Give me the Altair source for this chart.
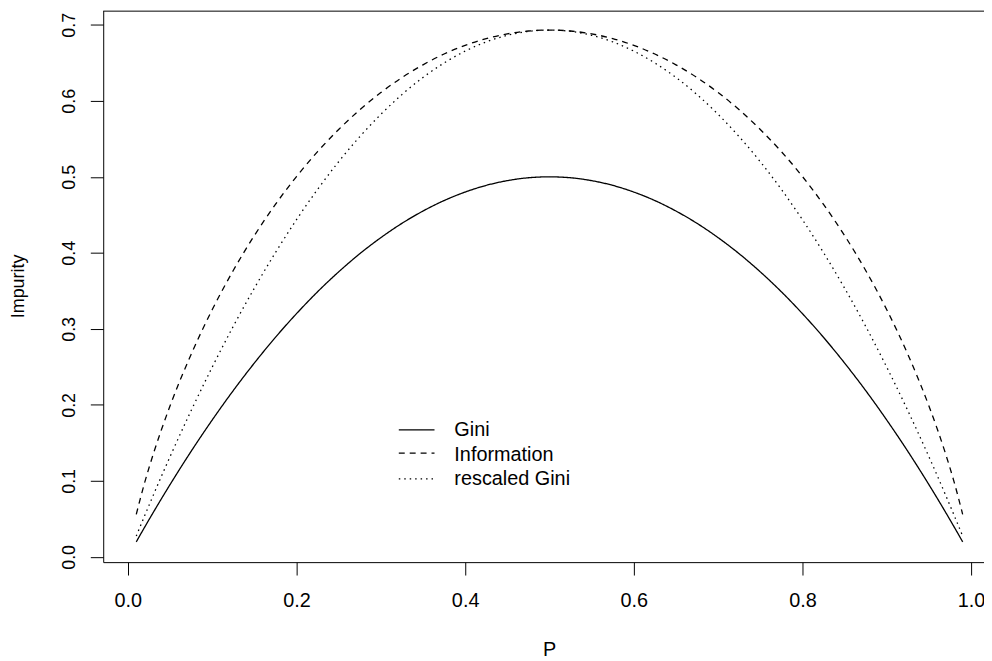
import altair as alt
import pandas as pd

# ---- data ----
p = [0.01, 0.02, 0.03, 0.04, 0.05, 0.075, 0.1, 0.125, 0.15, 0.175, 0.2, 0.225,
     0.25, 0.275, 0.3, 0.325, 0.35, 0.375, 0.4, 0.425, 0.45, 0.475, 0.5,
     0.525, 0.55, 0.575, 0.6, 0.625, 0.65, 0.675, 0.7, 0.725, 0.75, 0.775,
     0.8, 0.825, 0.85, 0.875, 0.9, 0.925, 0.95, 0.96, 0.97, 0.98, 0.99]

gini = [0.0198, 0.0392, 0.0582, 0.0768, 0.0950, 0.1388, 0.1800, 0.2188, 0.2550,
        0.2888, 0.3200, 0.3488, 0.3750, 0.3988, 0.4200, 0.4388, 0.4550, 0.4688,
        0.4800, 0.4888, 0.4950, 0.4988, 0.5000,
        0.4988, 0.4950, 0.4888, 0.4800, 0.4688, 0.4550, 0.4388, 0.4200, 0.3988,
        0.3750, 0.3488, 0.3200, 0.2888, 0.2550, 0.2188, 0.1800, 0.1388, 0.0950,
        0.0768, 0.0582, 0.0392, 0.0198]

information = [0.0560, 0.0980, 0.1347, 0.1679, 0.1985, 0.2664, 0.3251, 0.3768,
               0.4227, 0.4637, 0.5004, 0.5332, 0.5623, 0.5882, 0.6109, 0.6306,
               0.6474, 0.6616, 0.6730, 0.6819, 0.6881, 0.6919, 0.6931,
               0.6919, 0.6881, 0.6819, 0.6730, 0.6616, 0.6474, 0.6306, 0.6109,
               0.5882, 0.5623, 0.5332, 0.5004, 0.4637, 0.4227, 0.3768, 0.3251,
               0.2664, 0.1985, 0.1679, 0.1347, 0.0980, 0.0560]

rescaled_gini = [0.0274, 0.0543, 0.0807, 0.1065, 0.1317, 0.1923, 0.2495, 0.3033,
                 0.3535, 0.4003, 0.4436, 0.4835, 0.5199, 0.5528, 0.5822, 0.6082,
                 0.6308, 0.6498, 0.6654, 0.6776, 0.6862, 0.6914, 0.6931,
                 0.6914, 0.6862, 0.6776, 0.6654, 0.6498, 0.6308, 0.6082, 0.5822,
                 0.5528, 0.5199, 0.4835, 0.4436, 0.4003, 0.3535, 0.3033, 0.2495,
                 0.1923, 0.1317, 0.1065, 0.0807, 0.0543, 0.0274]

series_names = ["Gini", "Information", "rescaled Gini"]
x_ticks = [0.0, 0.2, 0.4, 0.6, 0.8, 1.0]
y_ticks = [0.0, 0.1, 0.2, 0.3, 0.4, 0.5, 0.6, 0.7]

rows = []
for name, vals in zip(series_names, [gini, information, rescaled_gini]):
    for xv, yv in zip(p, vals):
        rows.append({"P": xv, "Impurity": yv, "series": name})
df = pd.DataFrame(rows)
one = pd.DataFrame({"k": [0]})

FONT = "Liberation Sans"
W, H = 888, 556

x_scale = alt.Scale(domain=[-0.0292, 1.0153], nice=False, zero=False)
y_scale = alt.Scale(domain=[-0.00692, 0.71866], nice=False, zero=False)

dashes = [[1, 0], [6, 5], [1.5, 4]]
dash_scale = alt.Scale(domain=series_names, range=dashes)

lines = alt.Chart(df).mark_line(color="black", strokeWidth=1.3, interpolate="monotone").encode(
    x=alt.X("P:Q", scale=x_scale,
            axis=alt.Axis(values=x_ticks, format=".1f", tickSize=13, labelPadding=32,
                          labelBaseline="alphabetic", labelFontSize=20, labelFont=FONT,
                          labelColor="black", labelFlush=False, labelOverlap=False,
                          domainColor="black", tickColor="black", grid=False,
                          title="P", titleX=449.5, titleY=94, titleAlign="center",
                          titleBaseline="alphabetic", titleFont=FONT, titleFontSize=20,
                          titleFontWeight="normal", titleColor="black")),
    y=alt.Y("Impurity:Q", scale=y_scale,
            axis=alt.Axis(values=y_ticks, format=".1f", tickSize=13, labelPadding=15.5,
                          labelAngle=270, labelAlign="center", labelBaseline="alphabetic",
                          labelFontSize=18, labelFont=FONT, labelColor="black",
                          labelFlush=False, labelOverlap=False,
                          domainColor="black", tickColor="black", grid=False,
                          title="Impurity", titleAngle=270, titleX=-80, titleY=277.5,
                          titleAlign="center", titleBaseline="alphabetic", titleFont=FONT,
                          titleFontSize=18, titleFontWeight="normal", titleColor="black")),
    strokeDash=alt.StrokeDash("series:N", scale=dash_scale, legend=None),
    detail="series:N",
)

top_border = alt.Chart(one).mark_rule(color="black", strokeWidth=1).encode(
    x=alt.value(0), x2=alt.value(W), y=alt.value(0.5)
)

# legend (drawn manually, no box)
leg_y = [422.7, 446.0, 472.0]
leg_text_y = [429.3, 453.7, 478.7]
legend_layers = []
for name, ly, ty, d in zip(series_names, leg_y, leg_text_y, dashes):
    legend_layers.append(
        alt.Chart(one).mark_rule(color="black", strokeWidth=1.3, strokeDash=d).encode(
            x=alt.value(298), x2=alt.value(334), y=alt.value(ly)
        )
    )
    legend_layers.append(
        alt.Chart(one).mark_text(text=name, align="left", baseline="alphabetic",
                                 font=FONT, fontSize=20, color="black").encode(
            x=alt.value(354), y=alt.value(ty)
        )
    )

chart = alt.layer(lines, top_border, *legend_layers).properties(
    width=W, height=H,
    autosize=alt.AutoSizeParams(type="none"),
    padding={"left": 96, "top": 0, "right": 0, "bottom": 97},
    background="white",
).configure_view(stroke=None)

chart.save("out.html", embed_options={"renderer": "svg", "actions": False})
